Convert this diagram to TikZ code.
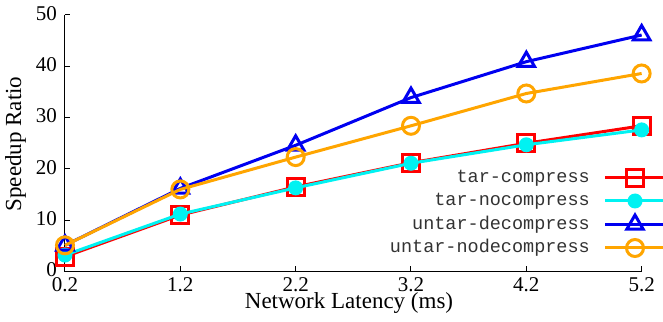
\documentclass[tikz,border=0pt]{standalone}
\usepackage{fontspec}
\setmainfont{Liberation Serif}
\newfontfamily\legfont{Liberation Mono}
\usetikzlibrary{shapes.geometric}

\definecolor{sRed}{RGB}{255,0,0}
\definecolor{sCyan}{RGB}{0,242,242}
\definecolor{sBlue}{RGB}{0,0,240}
\definecolor{sOrange}{RGB}{255,165,0}

\tikzset{
  spine/.style={line width=1pt, black},
  series/.style={line width=3pt, line join=round},
  sqmark/.style={rectangle, draw=sRed, line width=3pt, minimum size=17pt, inner sep=0pt},
  dotmark/.style={circle, fill=sCyan, minimum size=15pt, inner sep=0pt},
  trimark/.style={regular polygon, regular polygon sides=3, draw=sBlue, line width=3pt, minimum size=19pt, inner sep=0pt},
  ringmark/.style={circle, draw=sOrange, line width=3pt, minimum size=17pt, inner sep=0pt},
  ticklab/.style={font=\fontsize{21}{21}\selectfont, inner sep=0pt},
  axislab/.style={font=\fontsize{23}{23}\selectfont, inner sep=0pt},
  leglab/.style={font=\legfont\fontsize{18.5}{18.5}\selectfont, text=black!80, anchor=east, inner sep=0pt},
}

\begin{document}
\begin{tikzpicture}[x=1pt, y=1pt]
\useasboundingbox (0,0) rectangle (663,321);

\begin{scope}[x=115.33pt, y=5.13pt, shift={(41.93pt,49.5pt)}]
  % axes corners
  \coordinate (o) at (0.2,0);
  \coordinate (xe) at (5.2,0);
  \coordinate (ye) at (0.2,50);
  \draw[spine] (ye) -- (o) -- (xe);

  % x ticks and labels
  \foreach \v [count=\k] in {0.2,1.2,2.2,3.2,4.2,5.2} {
    \coordinate (xt\k) at (\v,0);
    \draw[spine] (xt\k) -- ++(0,5pt);
    \node[ticklab, anchor=north] (xl\k) at ([yshift=-6pt]xt\k) {\v};
  }
  % y ticks and labels
  \foreach \s [count=\k] in {0,10,20,30,40,50} {
    \coordinate (yt\k) at (0.2,\s);
    \draw[spine] (yt\k) -- ++(5pt,0);
    \node[ticklab, anchor=east] (yl\k) at ([xshift=-8pt,yshift=1.5pt]yt\k) {\s};
  }

  % data points
  \foreach \n/\x/\a/\b/\c/\d in {1/0.2/2.9/3.2/5.1/5.1, 2/1.2/11.0/11.2/16.2/16.0,
      3/2.2/16.5/16.3/24.6/22.3, 4/3.2/21.2/21.1/33.9/28.4,
      5/4.2/25.0/24.7/40.9/34.7, 6/5.2/28.4/27.6/46.1/38.6} {
    \coordinate (tc\n) at (\x,\a);
    \coordinate (tn\n) at (\x,\b);
    \coordinate (ud\n) at (\x,\c);
    \coordinate (un\n) at (\x,\d);
  }

  % tar-compress
  \draw[series, sRed] (tc1) -- (tc2) -- (tc3) -- (tc4) -- (tc5) -- (tc6);
  \foreach \n in {1,...,6} \node[sqmark] (mtc\n) at (tc\n) {};
  % tar-nocompress
  \draw[series, sCyan] (tn1) -- (tn2) -- (tn3) -- (tn4) -- (tn5) -- (tn6);
  \foreach \n in {1,...,6} \node[dotmark] (mtn\n) at (tn\n) {};
  % untar-decompress
  \draw[series, sBlue] (ud1) -- (ud2) -- (ud3) -- (ud4) -- (ud5) -- (ud6);
  \foreach \n in {1,...,6} \node[trimark] (mud\n) at (ud\n) {};
  % untar-nodecompress
  \draw[series, sOrange] (un1) -- (un2) -- (un3) -- (un4) -- (un5) -- (un6);
  \foreach \n in {1,...,6} \node[ringmark] (mun\n) at (un\n) {};
\end{scope}

% axis titles
\node[axislab, anchor=base] (xtitle) at (349,12.5) {Network Latency (ms)};
\node[axislab, rotate=90, anchor=base] (ytitle) at (21,177) {Speedup Ratio};

% legend
\foreach \i/\lab/\col/\mk [count=\k] in {
    143/tar-compress/sRed/sqmark,
    120/tar-nocompress/sCyan/dotmark,
    96.5/untar-decompress/sBlue/trimark,
    73/untar-nodecompress/sOrange/ringmark} {
  \node[leglab] (lt\k) at (590,\i) {\lab};
  \coordinate (la\k) at (605,\i);
  \coordinate (lb\k) at (663,\i);
  \draw[series, \col] (la\k) -- (lb\k);
  \node[\mk] (lm\k) at (635,\i) {};
}
\end{tikzpicture}
\end{document}
